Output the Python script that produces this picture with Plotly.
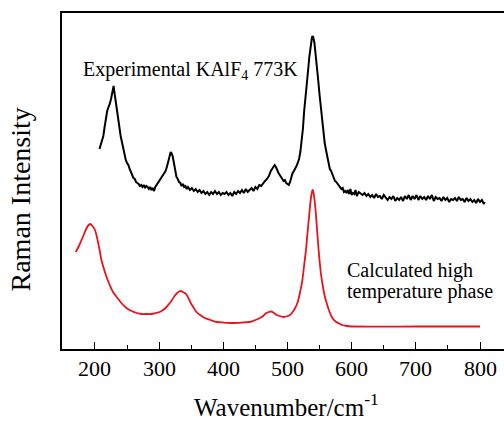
import plotly.graph_objects as go

# Experimental KAlF4 773K spectrum (wavenumber, intensity in arbitrary units)
exp_wavenumber = [
    207, 209, 211, 213, 215, 217, 219, 221, 223, 225, 227, 228, 229, 230, 232, 234, 236, 238, 240, 242,
    244, 246, 248, 250, 252, 254, 256, 258, 260, 262, 264, 266, 268, 270, 272, 274, 276, 278, 280, 282,
    284, 286, 288, 290, 292, 294, 296, 298, 300, 302, 304, 306, 308, 310, 312, 314, 316, 318, 319, 321,
    323, 325, 327, 329, 331, 333, 335, 337, 339, 341, 343, 345, 348, 351, 354, 357, 360, 363, 366, 369,
    372, 375, 378, 381, 384, 387, 390, 393, 396, 399, 402, 405, 408, 411, 414, 417, 420, 423, 426, 429,
    432, 435, 438, 441, 444, 447, 450, 453, 456, 459, 462, 465, 468, 471, 474, 477, 480, 482, 484, 486,
    488, 490, 492, 494, 496, 498, 500, 502, 504, 506, 508, 510, 512, 514, 516, 518, 520, 522, 524, 526,
    528, 530, 532, 534, 536, 538, 539, 540, 542, 544, 546, 548, 550, 552, 554, 556, 558, 560, 562, 564,
    566, 568, 570, 572, 574, 576, 578, 580, 582, 584, 586, 588, 590, 592, 594, 596, 598, 600, 602, 604,
    606, 608, 611, 614, 617, 620, 623, 626, 629, 632, 635, 638, 641, 644, 647, 650, 653, 656, 659, 662,
    665, 668, 671, 674, 677, 680, 683, 686, 689, 692, 695, 698, 701, 704, 707, 710, 713, 716, 719, 722,
    725, 728, 731, 734, 737, 740, 743, 746, 749, 752, 755, 758, 761, 764, 767, 770, 773, 776, 779, 782,
    785, 788, 791, 794, 797, 800, 803, 806, 807,
]
exp_intensity = [
    200, 205, 209, 213, 222, 232, 238, 242, 245, 250, 256, 262, 263, 258, 250, 238, 230, 222, 213, 206,
    199, 195, 189, 186, 184, 180, 177, 175, 171, 170, 167, 166, 165, 163, 164, 162, 164, 161, 163, 162,
    160, 162, 159, 161, 158, 162, 164, 166, 168, 170, 172, 173, 175, 178, 182, 188, 193, 197, 196, 193,
    186, 178, 172, 170, 167, 166, 163, 165, 162, 163, 160, 162, 159, 161, 158, 160, 157, 159, 156, 158,
    155, 157, 154, 157, 155, 158, 155, 157, 154, 156, 155, 157, 154, 156, 153, 157, 155, 158, 156, 159,
    156, 160, 157, 159, 161, 158, 162, 160, 164, 163, 166, 168, 170, 173, 178, 181, 184, 182, 178, 176,
    174, 172, 170, 168, 169, 166, 165, 164, 167, 172, 176, 178, 180, 183, 186, 190, 197, 207, 220, 238,
    254, 265, 278, 292, 303, 311, 313, 312, 306, 295, 282, 268, 254, 240, 226, 215, 206, 199, 192, 186,
    180, 178, 175, 172, 168, 167, 165, 164, 162, 160, 161, 157, 158, 156, 159, 155, 160, 154, 156, 155,
    159, 153, 157, 155, 154, 156, 153, 155, 152, 154, 151, 155, 152, 153, 150, 154, 151, 149, 152, 150,
    153, 148, 151, 149, 152, 148, 153, 150, 154, 149, 153, 150, 154, 149, 153, 150, 152, 149, 153, 150,
    154, 148, 152, 150, 151, 148, 152, 149, 151, 147, 150, 149, 151, 148, 152, 149, 150, 147, 151, 148,
    150, 147, 149, 146, 150, 147, 149, 145, 147,
]

# Calculated high temperature phase spectrum
calc_wavenumber = [
    170, 175, 179, 183, 187, 190, 193, 196, 200, 203, 205, 208, 210, 214, 218, 223, 228, 235, 241, 249,
    257, 265, 273, 281, 288, 295, 301, 306, 310, 314, 319, 324, 328, 331, 334, 337, 340, 343, 347, 350,
    353, 358, 364, 371, 380, 390, 400, 415, 430, 441, 450, 457, 462, 467, 471, 475, 479, 483, 488, 493,
    498, 504, 508, 512, 516, 520, 523, 526, 529, 531, 533, 535, 537, 539, 540, 542, 544, 546, 548, 550,
    552, 555, 558, 561, 565, 569, 574, 579, 585, 592, 600, 700, 800,
]
calc_intensity = [
    97, 103, 109, 115, 121, 124, 125, 123, 119, 112, 106, 96, 89, 80, 72, 64, 57, 51, 46, 41,
    38, 36, 35, 35, 35, 36, 37, 39, 41, 44, 48, 53, 56, 57.5, 58, 57, 56, 54, 49, 45,
    42, 37, 34, 31, 29, 27, 26.5, 26, 26.5, 27, 29, 31, 33, 36, 37, 37.5, 36, 34, 33, 32,
    32.5, 34, 37, 41, 47, 58, 68, 84, 100, 115, 128, 142, 153, 159, 158, 150, 137, 120, 103, 88,
    76, 63, 53, 46, 38, 32, 28, 26, 24, 23, 22.5, 22.5, 22.5,
]

x_ticks = [200, 300, 400, 500, 600, 700, 800]
x_tick_labels = ["200", "300", "400", "500", "600", "700", "800"]

FONT = "Liberation Serif"

fig = go.Figure()
fig.add_trace(go.Scatter(x=exp_wavenumber, y=exp_intensity, mode="lines",
                         line=dict(color="black", width=2), showlegend=False))
fig.add_trace(go.Scatter(x=calc_wavenumber, y=calc_intensity, mode="lines",
                         line=dict(color="#e8141c", width=1.8, shape="spline", smoothing=0.6),
                         showlegend=False))

# tick labels placed just below the axis line at each tick value
tick_annotations = [
    dict(text=lbl, x=val, xref="x", y=0, yref="paper", xanchor="center", yanchor="middle",
         yshift=-19, showarrow=False, font=dict(family=FONT, size=22, color="black"))
    for val, lbl in zip(x_ticks, x_tick_labels)
]

fig.update_layout(
    width=504, height=421,
    margin=dict(l=62, r=0, t=13, b=72),
    plot_bgcolor="white", paper_bgcolor="white",
    font=dict(family=FONT, color="black", size=21),
    xaxis=dict(
        range=[148.6, 837.4], tickmode="array", tickvals=x_ticks, showticklabels=False,
        ticks="inside", ticklen=7, tickwidth=1.4,
        tickcolor="black", showline=True, linecolor="black", linewidth=1.8, mirror=True,
        showgrid=False, zeroline=False,
        minor=dict(dtick=50, tick0=150, ticks="inside", ticklen=4, tickwidth=1.3, tickcolor="black", showgrid=False),
    ),
    yaxis=dict(
        range=[0, 336], showticklabels=False, ticks="", showline=True, linecolor="black",
        linewidth=1.8, mirror=False, showgrid=False, zeroline=False,
    ),
    annotations=tick_annotations + [
        dict(text="Wavenumber/cm<sup>-1</sup>", xref="paper", yref="paper", x=0.508, y=0,
             xanchor="center", yanchor="middle", yshift=-56, showarrow=False,
             font=dict(family=FONT, size=25, color="black")),
        dict(text="Raman Intensity", textangle=-90, xref="paper", yref="paper",
             x=-0.095, y=0.445, xanchor="center", yanchor="middle", showarrow=False,
             font=dict(family=FONT, size=28, color="black")),
        dict(text="Experimental KAlF<sub>4</sub> 773K", x=178, y=279, xanchor="left", yanchor="middle",
             showarrow=False, font=dict(family=FONT, size=20, color="black")),
        dict(text="Calculated high", x=589, y=79, xanchor="left", yanchor="middle",
             showarrow=False, font=dict(family=FONT, size=20, color="black")),
        dict(text="temperature phase", x=589, y=58, xanchor="left", yanchor="middle",
             showarrow=False, font=dict(family=FONT, size=20, color="black")),
    ],
)

fig.write_html("out.html")
